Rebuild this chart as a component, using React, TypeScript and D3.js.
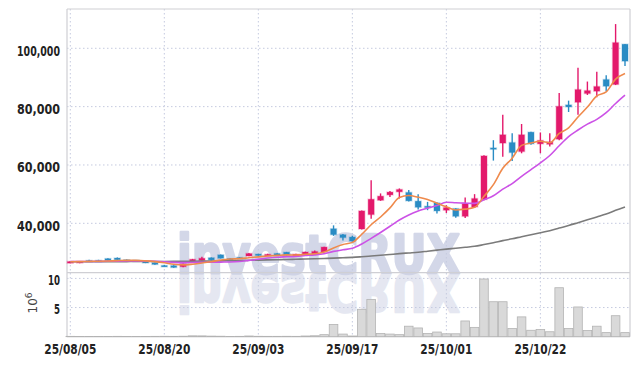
import React, { useEffect, useRef } from "react";
import * as d3 from "d3";

// trading days, yy/mm/dd
const dates = [
  "25/08/05", "25/08/06", "25/08/07", "25/08/08", "25/08/11", "25/08/12", "25/08/13", "25/08/14", "25/08/18", "25/08/19",
  "25/08/20", "25/08/21", "25/08/22", "25/08/25", "25/08/26", "25/08/27", "25/08/28", "25/08/29", "25/09/01", "25/09/02",
  "25/09/03", "25/09/04", "25/09/05", "25/09/08", "25/09/09", "25/09/10", "25/09/11", "25/09/12", "25/09/15", "25/09/16",
  "25/09/17", "25/09/18", "25/09/19", "25/09/22", "25/09/23", "25/09/24", "25/09/25", "25/09/26", "25/09/29", "25/09/30",
  "25/10/01", "25/10/02", "25/10/10", "25/10/13", "25/10/14", "25/10/15", "25/10/16", "25/10/17", "25/10/20", "25/10/21",
  "25/10/22", "25/10/23", "25/10/24", "25/10/27", "25/10/28", "25/10/29", "25/10/30", "25/10/31", "25/11/03", "25/11/04",
];

const opens = [
  26350, 26400, 27250, 27300, 27900, 28100, 27500, 27350, 26900, 26500,
  25550, 25500, 25150, 26550, 27250, 28200, 29200, 27900, 28300, 28800,
  29450, 29200, 29650, 30100, 29350, 29400, 29550, 30150, 38150, 36100,
  35300, 38050, 43000, 47900, 49750, 50800, 50600, 47600, 45850, 47000,
  44500, 45050, 42400, 45600, 48150, 65850, 67500, 67700, 64600, 71250,
  67250, 67100, 68850, 80600, 81500, 84500, 85300, 89300, 87600, 101400,
];
const highs = [
  27050, 27000, 27500, 27500, 28000, 28300, 27600, 27450, 27000, 26600,
  25750, 25600, 26200, 27800, 28500, 28300, 29300, 28000, 28400, 29800,
  29550, 29600, 29700, 30200, 29600, 30300, 30700, 32000, 39300, 36300,
  35750, 44400, 54800, 50250, 51050, 51950, 51400, 50000, 47350, 47100,
  46200, 45200, 48850, 50000, 63300, 68500, 77250, 70900, 74050, 71400,
  71150, 70900, 84700, 82050, 93350, 88600, 92000, 90800, 108300, 101500,
];
const lows = [
  26300, 26350, 26950, 27050, 27200, 27450, 27250, 27100, 26350, 25800,
  25250, 24800, 24900, 26400, 27200, 27350, 27900, 27650, 28100, 28700,
  28900, 29100, 28800, 29000, 29300, 29350, 29500, 30050, 35700, 34150,
  33650, 37900, 41600, 47700, 49050, 48500, 47500, 44700, 44500, 43350,
  43550, 41950, 41850, 45300, 47900, 61500, 62800, 61400, 64000, 66900,
  64050, 66300, 68500, 78150, 77250, 84000, 83200, 85300, 87400, 93900,
];
const closes = [
  26900, 26900, 27150, 27200, 27250, 27500, 27350, 27200, 26400, 25900,
  25450, 24850, 26100, 27650, 28000, 27450, 28000, 27750, 28200, 29650,
  28950, 29350, 28850, 29100, 29400, 30150, 30350, 31850, 36100, 35100,
  33900, 44250, 48250, 49300, 50700, 51600, 47700, 45500, 45400, 44250,
  45400, 42400, 46800, 48500, 63100, 65500, 70350, 64250, 70350, 67250,
  68400, 67900, 80100, 79900, 85850, 85500, 86900, 87000, 101950, 95600,
];
// volume, millions of shares
const volumes = [
  0.06, 0.05, 0.05, 0.04, 0.05, 0.06, 0.04, 0.04, 0.05, 0.06,
  0.07, 0.06, 0.08, 0.15, 0.14, 0.1, 0.08, 0.05, 0.06, 0.12,
  0.07, 0.06, 0.06, 0.07, 0.06, 0.12, 0.16, 0.35, 2.1, 0.45,
  0.12, 4.7, 6.4, 0.55, 0.45, 0.35, 1.8, 1.5, 0.55, 0.8,
  0.5, 0.5, 2.7, 1.6, 9.9, 6.0, 6.0, 1.4, 3.4, 1.1,
  1.25, 0.85, 8.4, 1.4, 5.1, 1.05, 1.8, 0.7, 3.6, 0.7,
];
// moving averages as drawn (5, 10, 60 days)
const ma5 = [
  26800, 26850, 26950, 27000, 27080, 27200, 27290, 27300, 27140, 26870,
  26460, 25960, 25740, 25990, 26410, 26810, 27440, 27770, 27880, 28210,
  28510, 28780, 29000, 29180, 29130, 29370, 29570, 30170, 31570, 32710,
  33460, 36240, 39520, 42160, 45280, 48820, 49510, 48960, 48180, 46890,
  45650, 44590, 44850, 45470, 49240, 53260, 58850, 62340, 66710, 67540,
  68120, 67630, 70800, 72710, 76430, 79850, 83650, 85030, 89440, 91390,
];
const ma10 = [
  26900, 26900, 26925, 26955, 26990, 27050, 27095, 27125, 27075, 26975,
  26830, 26625, 26520, 26565, 26640, 26635, 26700, 26755, 26935, 27310,
  27660, 28110, 28385, 28530, 28670, 28940, 29175, 29585, 30375, 30920,
  31415, 32905, 34845, 36865, 38995, 41140, 42875, 44240, 45170, 46085,
  47235, 47050, 46905, 46825, 48065, 49455, 51720, 53595, 56090, 58390,
  60690, 63240, 66570, 69710, 71985, 73985, 75640, 77915, 81075, 83910,
];
const ma60 = [
  26800, 26810, 26820, 26830, 26840, 26860, 26880, 26900, 26910, 26920,
  26930, 26940, 26960, 26990, 27030, 27080, 27130, 27190, 27250, 27320,
  27390, 27460, 27530, 27600, 27680, 27760, 27850, 27950, 28070, 28200,
  28330, 28550, 28800, 29050, 29320, 29600, 29850, 30100, 30450, 30800,
  31150, 31450, 31800, 32110, 32710, 33350, 34070, 34700, 35420, 36100,
  36790, 37470, 38360, 39240, 40220, 41200, 42200, 43200, 44450, 45600,
];

const dateTicks = ["25/08/05", "25/08/20", "25/09/03", "25/09/17", "25/10/01", "25/10/22"];
const priceTicks = [40000, 60000, 80000, 100000];
const volumeTicks = [5, 10];

const App = () => {
  const ref = useRef<SVGSVGElement>(null);

  useEffect(() => {
    const width = 639;
    const height = 366;
    const left = 67;
    const right = 630;
    const top = 9;
    const priceBottom = 272.7;
    const volBottom = 336.7;
    const labelFont = "'DejaVu Sans Condensed', 'DejaVu Sans', sans-serif";

    const svg = d3.select(ref.current)
      .attr("width", width)
      .attr("height", height)
      .style("background", "#fff");
    svg.selectAll("*").remove();

    const x = d3.scalePoint<string>().domain(dates).range([70.3, 625]);
    const y = d3.scaleLinear().domain([23070, 113470]).range([priceBottom, top]);
    const yv = d3.scaleLinear().domain([0, 10]).range([volBottom, 278.4]);

    // watermark + reflection
    const wm = svg.append("g");
    const wmText = (g: any, op: number) =>
      g.append("text")
        .attr("x", 177)
        .attr("y", 273)
        .attr("font-family", "'DejaVu Sans', sans-serif")
        .attr("font-weight", "bold")
        .attr("font-size", 54)
        .attr("textLength", 283)
        .attr("lengthAdjust", "spacingAndGlyphs")
        .attr("fill", "#ccd1e5")
        .attr("stroke", "#ccd1e5")
        .attr("stroke-width", 2.5)
        .attr("stroke-linejoin", "round")
        .attr("opacity", op)
        .text("investCRUX");
    wmText(wm, 0.85);
    wmText(wm.append("g").attr("transform", "translate(0,546) scale(1,-1)"), 0.5);

    // grid
    const grid = svg.append("g")
      .attr("stroke", "#c5cadf")
      .attr("stroke-width", 1)
      .attr("stroke-dasharray", "1.5,2.5");
    priceTicks.forEach((t) => {
      grid.append("line").attr("x1", left).attr("x2", right).attr("y1", y(t)).attr("y2", y(t));
    });
    volumeTicks.forEach((t) => {
      grid.append("line").attr("x1", left).attr("x2", right).attr("y1", yv(t)).attr("y2", yv(t));
    });
    dateTicks.forEach((d) => {
      grid.append("line").attr("x1", x(d)!).attr("x2", x(d)!).attr("y1", top).attr("y2", volBottom);
    });

    // frame
    const frame = svg.append("g").attr("stroke", "#cfcfd4").attr("stroke-width", 1.2).attr("fill", "none");
    frame.append("line").attr("x1", left).attr("x2", right).attr("y1", top).attr("y2", top);
    frame.append("line").attr("x1", left).attr("x2", right).attr("y1", priceBottom).attr("y2", priceBottom);
    frame.append("line").attr("x1", left).attr("x2", right).attr("y1", volBottom).attr("y2", volBottom);
    frame.append("line").attr("x1", left).attr("x2", left).attr("y1", top).attr("y2", volBottom);
    frame.append("line").attr("x1", right).attr("x2", right).attr("y1", top).attr("y2", volBottom);

    // volume bars
    const bw = 8.6;
    svg.append("g")
      .selectAll("rect")
      .data(volumes)
      .join("rect")
      .attr("x", (_, i) => x(dates[i])! - bw / 2)
      .attr("y", (v) => yv(v))
      .attr("width", bw)
      .attr("height", (v) => volBottom - yv(v))
      .attr("fill", "#d9d9d9")
      .attr("stroke", "#b3b3b3")
      .attr("stroke-width", 0.8);

    // candles
    const up = "#e3196b";
    const down = "#2a8cc4";
    const cw = 6;
    const candles = svg.append("g");
    dates.forEach((d, i) => {
      const color = closes[i] >= opens[i] ? up : down;
      const cx = x(d)!;
      candles.append("line")
        .attr("x1", cx).attr("x2", cx)
        .attr("y1", y(highs[i])).attr("y2", y(lows[i]))
        .attr("stroke", color)
        .attr("stroke-width", 1.4);
      const y0 = y(Math.max(opens[i], closes[i]));
      const y1 = y(Math.min(opens[i], closes[i]));
      candles.append("rect")
        .attr("x", cx - cw / 2)
        .attr("y", y0)
        .attr("width", cw)
        .attr("height", Math.max(1.4, y1 - y0))
        .attr("fill", color)
        .attr("stroke", color)
        .attr("stroke-opacity", 0.25)
        .attr("stroke-width", 1.5);
    });

    // moving averages
    const line = d3.line<number>()
      .x((_, i) => x(dates[i])!)
      .y((v) => y(v))
      .curve(d3.curveMonotoneX);
    [
      { data: ma60, color: "#7b7b7b" },
      { data: ma10, color: "#cc52e6" },
      { data: ma5, color: "#ef8a4c" },
    ].forEach((s) => {
      svg.append("path")
        .attr("d", line(s.data))
        .attr("fill", "none")
        .attr("stroke", s.color)
        .attr("stroke-width", 1.6);
    });

    // y labels
    const fmt = d3.format(",");
    const label = (tx: number, ty: number, txt: string, anchor: string, len?: number) => {
      const t = svg.append("text")
        .attr("x", tx)
        .attr("y", ty)
        .attr("text-anchor", anchor)
        .attr("font-family", labelFont)
        .attr("font-weight", "bold")
        .attr("font-stretch", "condensed")
        .attr("font-size", 14)
        .attr("fill", "#222")
        .text(txt);
      if (len) t.attr("textLength", len).attr("lengthAdjust", "spacingAndGlyphs");
      return t;
    };
    priceTicks.forEach((t) => label(60, y(t) + 7.5, fmt(t), "end", 43));
    volumeTicks.forEach((t) => label(60, yv(t) + 6.5, String(t), "end", t === 10 ? 12 : 6));

    const unit = svg.append("text")
      .attr("transform", "translate(37,303) rotate(-90)")
      .attr("text-anchor", "middle")
      .attr("font-family", "'DejaVu Sans', sans-serif")
      .attr("font-size", 12)
      .attr("fill", "#444");
    unit.append("tspan").text("10");
    unit.append("tspan").attr("dy", -5).attr("font-size", 9).text("6");

    // x labels
    dateTicks.forEach((d) => label(x(d)!, 354, d, "middle", 52));
  }, []);

  return (
    <svg ref={ref} style={{ position: "absolute", left: 0, top: 0, display: "block" }}></svg>
  );
};

export default App;
